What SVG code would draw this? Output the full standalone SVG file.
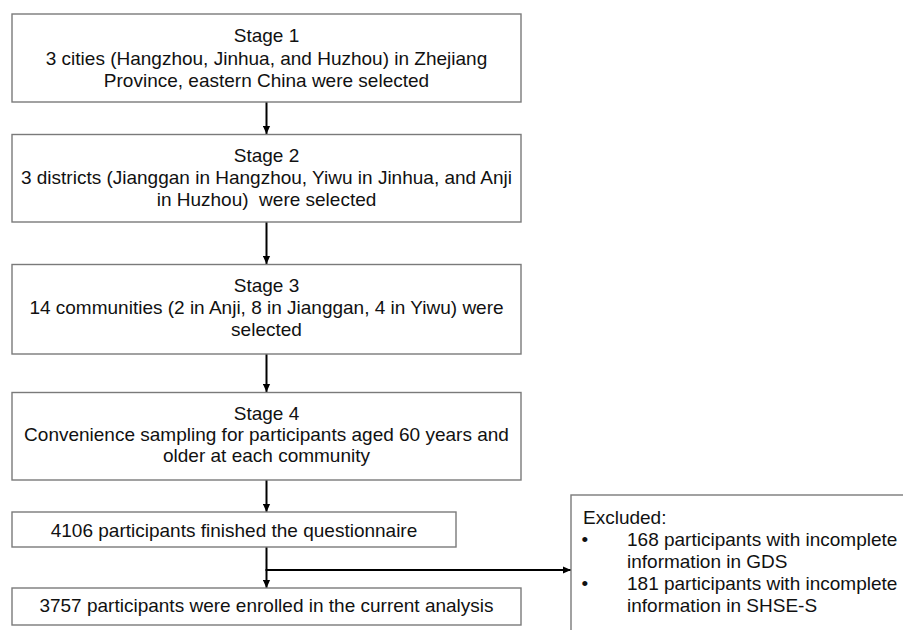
<svg xmlns="http://www.w3.org/2000/svg" width="903" height="630" viewBox="0 0 903 630">
<style>
  .box { fill: #ffffff; stroke: #7a7a7a; stroke-width: 1.4; }
  .t { font-family: "Liberation Sans", Arial, sans-serif; font-size: 19px; fill: #111111; }
  .c { text-anchor: middle; }
  .conn { stroke: #000000; stroke-width: 2; fill: none; }
</style>
<defs>
  <marker id="ah" viewBox="0 0 10 10" refX="10" refY="5" markerWidth="4" markerHeight="4" markerUnits="strokeWidth" orient="auto">
    <path d="M0,0.5 L10,5 L0,9.5 z" fill="#000000"/>
  </marker>
</defs>
<rect width="903" height="630" fill="#ffffff"/>

<g id="connectors">
  <line class="conn" x1="266.5" y1="102" x2="266.5" y2="134" marker-end="url(#ah)"/>
  <line class="conn" x1="266.5" y1="222" x2="266.5" y2="264" marker-end="url(#ah)"/>
  <line class="conn" x1="266.5" y1="354" x2="266.5" y2="392" marker-end="url(#ah)"/>
  <line class="conn" x1="266.5" y1="480" x2="266.5" y2="512" marker-end="url(#ah)"/>
  <line class="conn" x1="266.5" y1="547" x2="266.5" y2="588" marker-end="url(#ah)"/>
  <line class="conn" x1="265.5" y1="570" x2="571" y2="570" marker-end="url(#ah)"/>
</g>

<g id="stage1">
  <rect class="box" x="12" y="14" width="509" height="88"/>
  <text class="t c" x="266.5" y="42">Stage 1</text>
  <text class="t c" x="266.5" y="64.5">3 cities (Hangzhou, Jinhua, and Huzhou) in Zhejiang</text>
  <text class="t c" x="266.5" y="86.5">Province, eastern China were selected</text>
</g>

<g id="stage2">
  <rect class="box" x="12" y="134.5" width="509" height="87.5"/>
  <text class="t c" x="266.5" y="162">Stage 2</text>
  <text class="t c" x="266.5" y="184">3 districts (Jianggan in Hangzhou, Yiwu in Jinhua, and Anji</text>
  <text class="t c" x="266.5" y="205.5">in Huzhou)&#160; were selected</text>
</g>

<g id="stage3">
  <rect class="box" x="12" y="264.5" width="509" height="89.5"/>
  <text class="t c" x="266.5" y="292">Stage 3</text>
  <text class="t c" x="266.5" y="314">14 communities (2 in Anji, 8 in Jianggan, 4 in Yiwu) were</text>
  <text class="t c" x="266.5" y="335.5">selected</text>
</g>

<g id="stage4">
  <rect class="box" x="12" y="392.5" width="509" height="87.5"/>
  <text class="t c" x="266.5" y="419.5">Stage 4</text>
  <text class="t c" x="266.5" y="441">Convenience sampling for participants aged 60 years and</text>
  <text class="t c" x="266.5" y="462">older at each community</text>
</g>

<g id="finished">
  <rect class="box" x="12" y="512" width="444" height="35"/>
  <text class="t c" x="234" y="536.5">4106 participants finished the questionnaire</text>
</g>

<g id="enrolled">
  <rect class="box" x="12" y="588" width="509" height="37"/>
  <text class="t c" x="266.5" y="612">3757 participants were enrolled in the current analysis</text>
</g>

<g id="excluded">
  <rect class="box" x="571" y="495" width="345" height="150"/>
  <text class="t" x="583" y="524">Excluded:</text>
  <text class="t" x="581.5" y="546">•</text>
  <text class="t" x="627" y="546">168 participants with incomplete</text>
  <text class="t" x="627" y="568">information in GDS</text>
  <text class="t" x="581.5" y="590">•</text>
  <text class="t" x="627" y="590">181 participants with incomplete</text>
  <text class="t" x="627" y="612">information in SHSE-S</text>
</g>
</svg>
